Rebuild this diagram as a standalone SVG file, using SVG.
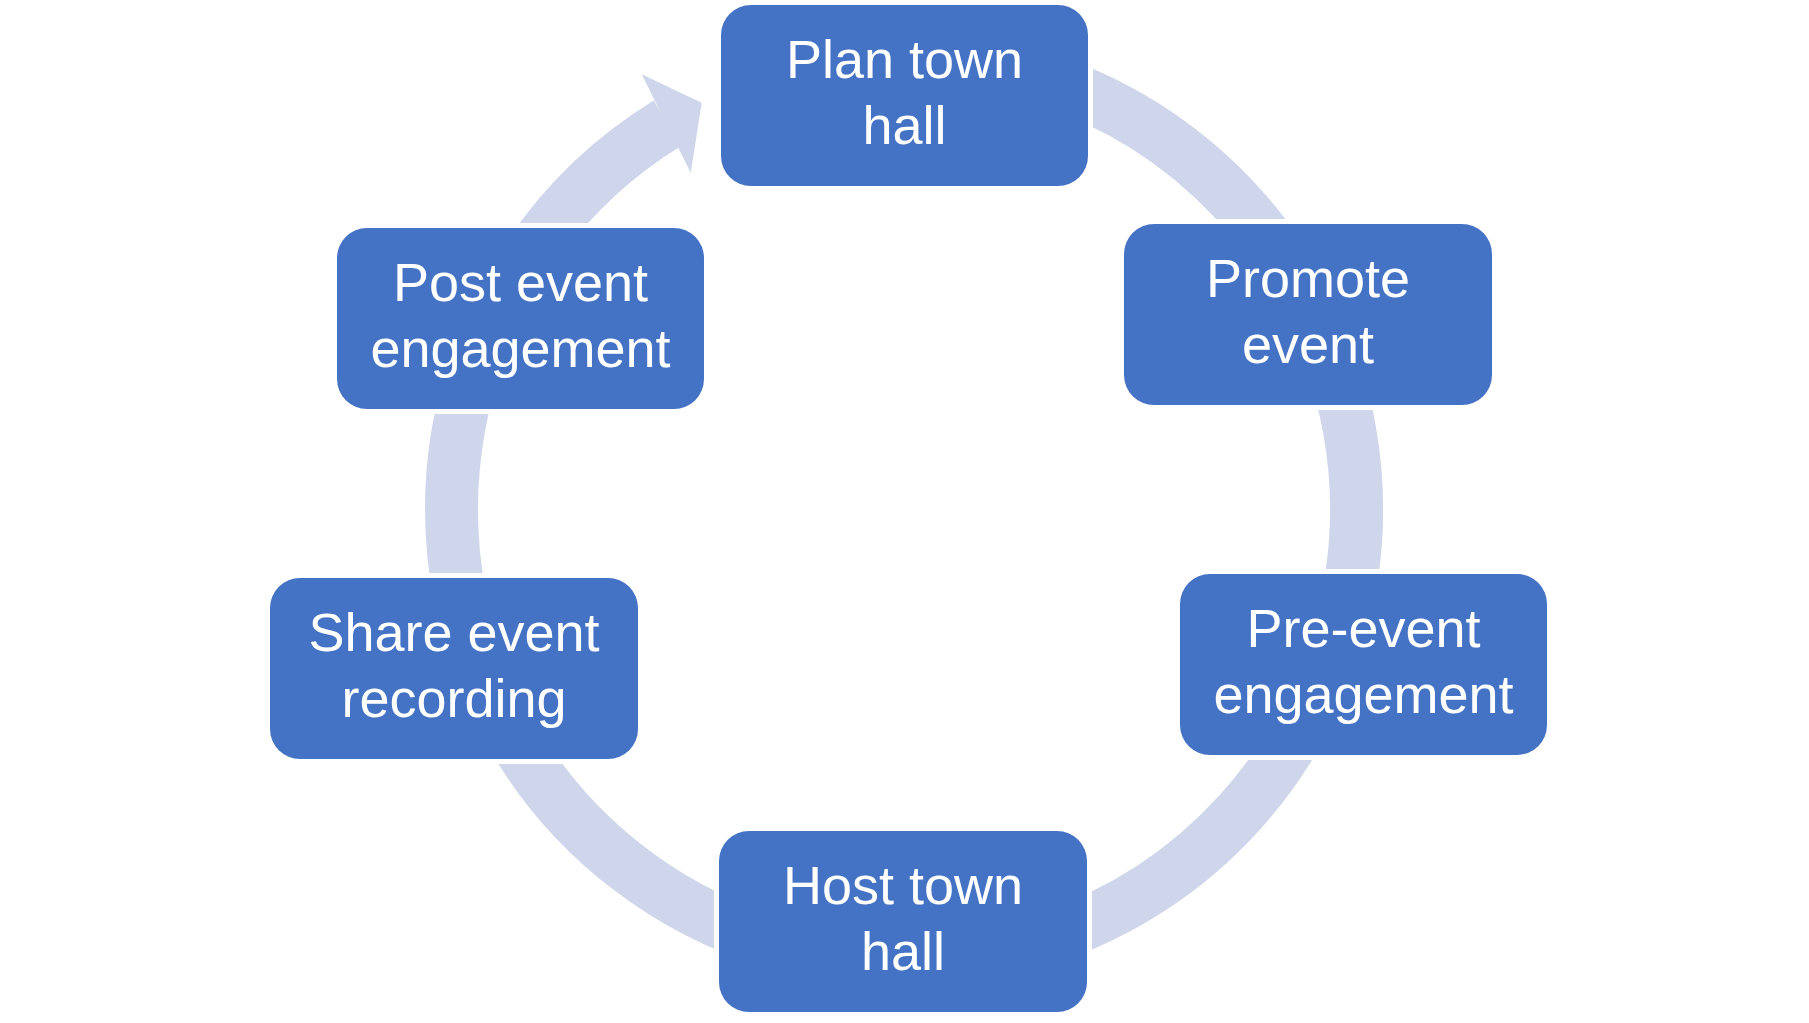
<svg xmlns="http://www.w3.org/2000/svg" width="1809" height="1023" viewBox="0 0 1809 1023">
  <style>
    .node rect { fill: #4472C4; }
    .node text { fill: #FFFFFF; font-family: "Liberation Sans", Arial, sans-serif; font-size: 54px; text-anchor: middle; }
    .ring { fill: none; stroke: #CFD5EA; stroke-width: 53; stroke-linecap: butt; }
    .head { fill: #CFD5EA; }
  </style>
  <defs>
    <mask id="gaps" maskUnits="userSpaceOnUse" x="0" y="0" width="1809" height="1023">
      <rect x="0" y="0" width="1809" height="1023" fill="#fff"/>
      <rect x="716" y="0" width="377" height="191" fill="#000"/>
      <rect x="1119" y="219" width="378" height="191" fill="#000"/>
      <rect x="1175" y="569" width="378" height="191" fill="#000"/>
      <rect x="714" y="826" width="378" height="191" fill="#000"/>
      <rect x="265" y="573" width="378" height="191" fill="#000"/>
      <rect x="332" y="223" width="377" height="191" fill="#000"/>
    </mask>
  </defs>
  <rect x="0" y="0" width="1809" height="1023" fill="#FFFFFF"/>

  <g id="connectors" mask="url(#gaps)">
    <path class="ring" d="M 864.56 58.22 A 452.5 452.5 0 1 1 667.57 123.18"/>
    <polygon class="head" points="641.7,74.3 701.7,102.7 690.7,172.7"/>
  </g>

  <g id="node-plan" class="node">
    <rect x="721" y="5" width="367" height="181" rx="30"/>
    <text x="904.5" y="78">Plan town</text>
    <text x="904.5" y="144">hall</text>
  </g>
  <g id="node-promote" class="node">
    <rect x="1124" y="224" width="368" height="181" rx="30"/>
    <text x="1308" y="297">Promote</text>
    <text x="1308" y="363">event</text>
  </g>
  <g id="node-pre" class="node">
    <rect x="1180" y="574" width="367" height="181" rx="30"/>
    <text x="1363.5" y="647">Pre-event</text>
    <text x="1363.5" y="713">engagement</text>
  </g>
  <g id="node-host" class="node">
    <rect x="719" y="831" width="368" height="181" rx="30"/>
    <text x="903" y="904">Host town</text>
    <text x="903" y="970">hall</text>
  </g>
  <g id="node-share" class="node">
    <rect x="270" y="578" width="368" height="181" rx="30"/>
    <text x="454" y="651">Share event</text>
    <text x="454" y="717">recording</text>
  </g>
  <g id="node-post" class="node">
    <rect x="337" y="228" width="367" height="181" rx="30"/>
    <text x="520.5" y="301">Post event</text>
    <text x="520.5" y="367">engagement</text>
  </g>
</svg>
